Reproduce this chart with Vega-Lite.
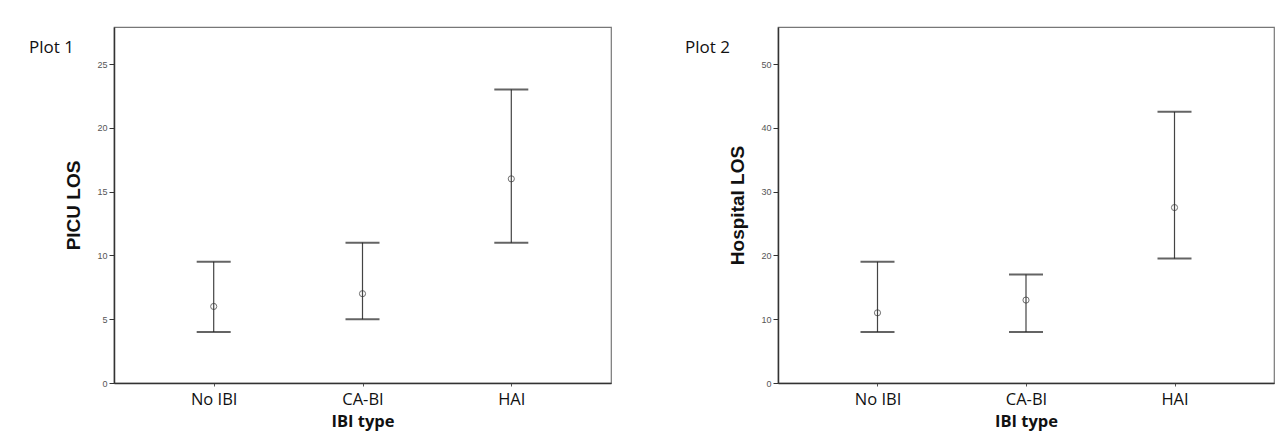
{
  "$schema": "https://vega.github.io/schema/vega-lite/v6.json",
  "background": "white",
  "padding": {"left": 28, "top": 26, "right": 5, "bottom": 5},
  "spacing": 72,
  "config": {
    "view": {"stroke": "#777", "strokeWidth": 1.2},
    "axis": {"grid": false},
    "axisX": {
      "labelFont": "Open Sans", "labelFontSize": 16.5, "labelColor": "#111", "labelAngle": 0,
      "labelPadding": 5, "tickSize": 3, "tickColor": "#555", "domainColor": "#333", "domainWidth": 1.5,
      "titleFont": "Open Sans", "titleFontSize": 16.5, "titleFontWeight": "bold", "titleColor": "#111", "titlePadding": 6
    },
    "axisY": {
      "labelFont": "Liberation Sans", "labelFontSize": 9, "labelColor": "#555", "labelPadding": 2,
      "tickSize": 5, "tickColor": "#333", "domainColor": "#333", "domainWidth": 1.5,
      "titleFont": "Liberation Sans", "titleFontSize": 19, "titleFontWeight": "bold", "titleColor": "#111", "titlePadding": 13
    },
    "title": {"font": "Open Sans", "fontSize": 17, "fontWeight": "normal", "color": "#111", "anchor": "start", "frame": "group"}
  },
  "hconcat": [
    {
      "width": 497, "height": 356,
      "title": {"text": "Plot 1", "dx": -85, "dy": 34},
      "data": {"values": [
        {"type": "No IBI", "mean": 6, "lower": 4, "upper": 9.5},
        {"type": "CA-BI", "mean": 7, "lower": 5, "upper": 11},
        {"type": "HAI", "mean": 16, "lower": 11, "upper": 23}
      ]},
      "encoding": {
        "x": {"field": "type", "type": "nominal", "sort": null, "title": "IBI type",
              "scale": {"type": "point", "padding": 0.67}}
      },
      "layer": [
        {"mark": {"type": "rule", "color": "#444", "strokeWidth": 1.2},
         "encoding": {"y": {"field": "lower", "type": "quantitative", "title": "PICU LOS",
                            "scale": {"domain": [0, 27.9], "nice": false, "zero": true},
                            "axis": {"values": [0, 5, 10, 15, 20, 25]}},
                      "y2": {"field": "upper"}}},
        {"mark": {"type": "tick", "color": "#222", "size": 34, "thickness": 2},
         "encoding": {"y": {"field": "lower", "type": "quantitative"}}},
        {"mark": {"type": "tick", "color": "#222", "size": 34, "thickness": 2},
         "encoding": {"y": {"field": "upper", "type": "quantitative"}}},
        {"mark": {"type": "point", "filled": false, "color": "#333", "size": 38, "strokeWidth": 1},
         "encoding": {"y": {"field": "mean", "type": "quantitative"}}}
      ]
    },
    {
      "width": 496, "height": 356,
      "title": {"text": "Plot 2", "dx": -93, "dy": 34},
      "data": {"values": [
        {"type": "No IBI", "mean": 11, "lower": 8, "upper": 19},
        {"type": "CA-BI", "mean": 13, "lower": 8, "upper": 17},
        {"type": "HAI", "mean": 27.5, "lower": 19.5, "upper": 42.5}
      ]},
      "encoding": {
        "x": {"field": "type", "type": "nominal", "sort": null, "title": "IBI type",
              "scale": {"type": "point", "padding": 0.67}}
      },
      "layer": [
        {"mark": {"type": "rule", "color": "#444", "strokeWidth": 1.2},
         "encoding": {"y": {"field": "lower", "type": "quantitative", "title": "Hospital LOS",
                            "scale": {"domain": [0, 55.8], "nice": false, "zero": true},
                            "axis": {"values": [0, 10, 20, 30, 40, 50]}},
                      "y2": {"field": "upper"}}},
        {"mark": {"type": "tick", "color": "#222", "size": 34, "thickness": 2},
         "encoding": {"y": {"field": "lower", "type": "quantitative"}}},
        {"mark": {"type": "tick", "color": "#222", "size": 34, "thickness": 2},
         "encoding": {"y": {"field": "upper", "type": "quantitative"}}},
        {"mark": {"type": "point", "filled": false, "color": "#333", "size": 38, "strokeWidth": 1},
         "encoding": {"y": {"field": "mean", "type": "quantitative"}}}
      ]
    }
  ]
}
